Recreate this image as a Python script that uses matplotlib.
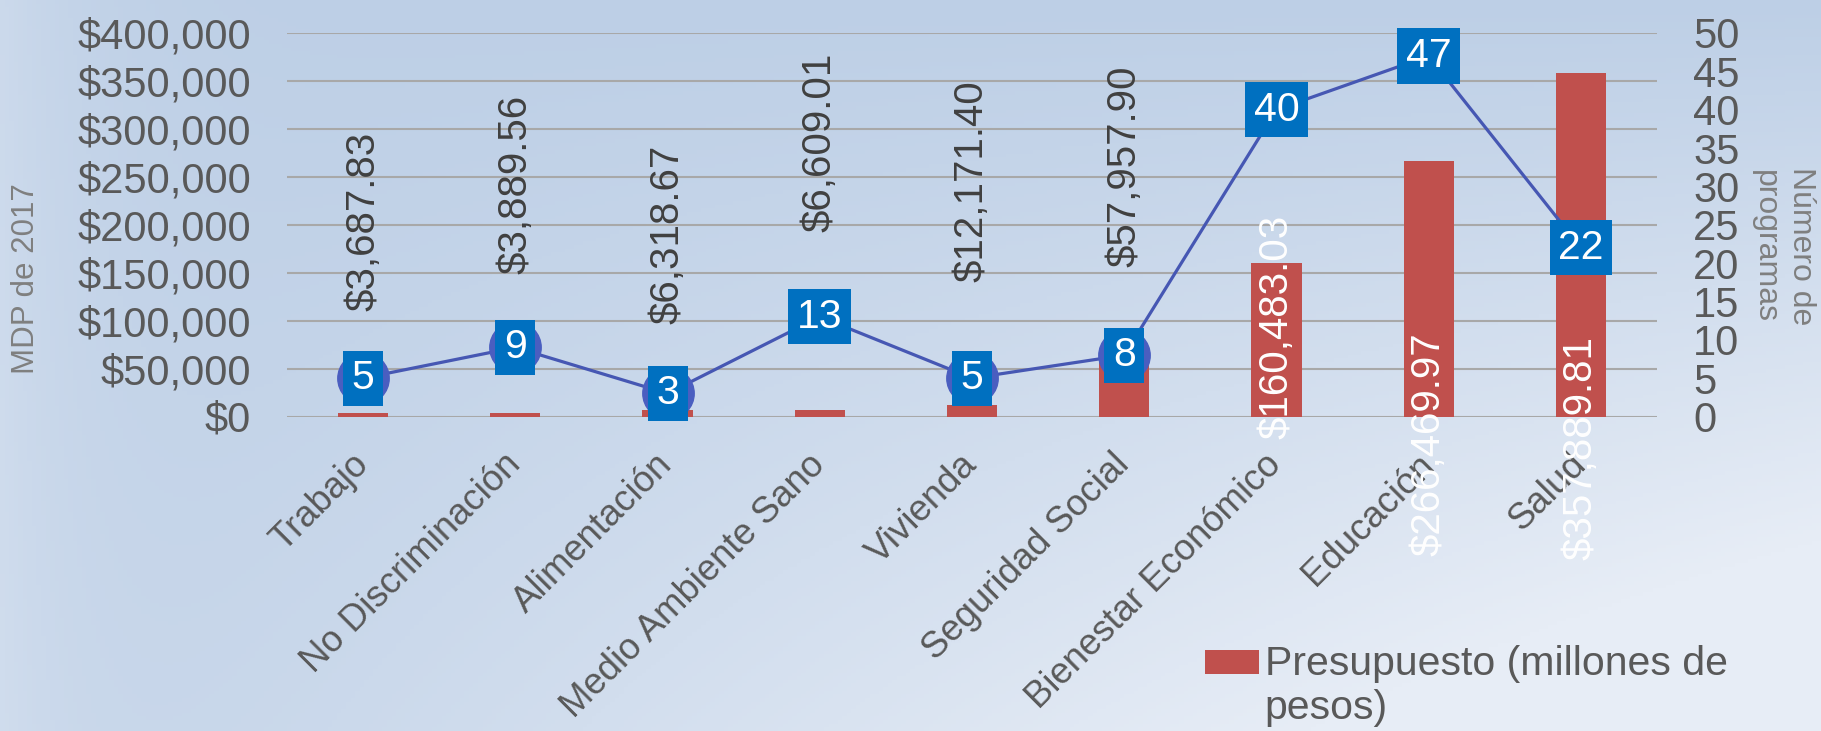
import numpy as np
import matplotlib
matplotlib.use("Agg")
import matplotlib.pyplot as plt
from matplotlib.ticker import FuncFormatter, MultipleLocator
from matplotlib.legend_handler import HandlerPatch
from matplotlib.patches import Rectangle

plt.rcParams['font.family'] = ['Liberation Sans', 'DejaVu Sans']

# ---- data ----
categorias = ["Trabajo", "No Discriminación", "Alimentación", "Medio Ambiente Sano",
              "Vivienda", "Seguridad Social", "Bienestar Económico", "Educación", "Salud"]
presupuesto = [3687.83, 3889.56, 6318.67, 6609.01, 12171.40, 57957.90,
               160483.03, 266469.97, 357889.81]
programas = [5, 9, 3, 13, 5, 8, 40, 47, 22]
etiqueta_serie = "Presupuesto (millones de\npesos)"
titulo_izq = "MDP de 2017"
titulo_der = "Número de\nprogramas"

# ---- layout (label centres, in left-axis units) ----
label_centre = [203e3, 242e3, 190e3, 286e3, 246e3, 261e3, 94e3, -28.7e3, -32.9e3]
label_color = ['#404040'] * 6 + ['white'] * 3

W, H = 1821, 731
fig = plt.figure(figsize=(W / 100, H / 100), dpi=100)

# background gradient
bg = fig.add_axes([0, 0, 1, 1], zorder=-10)
xx, yy = np.meshgrid(np.linspace(0, 1, 400), np.linspace(0, 1, 200))
t = np.clip(1.25 * xx * yy + 0.1 * yy, 0, 1)
t = np.clip(t + 0.35 * np.exp(-xx * W / 90.0), 0, 1)
dark = np.array([189, 207, 230]) / 255
light = np.array([231, 237, 246]) / 255
img = dark[None, None, :] + (light - dark)[None, None, :] * t[..., None]
bg.imshow(img, aspect='auto', extent=[0, 1, 0, 1], origin='upper')
bg.axis('off')

L, R = 287 / W, 1657 / W
B, T = 1 - 416.5 / H, 1 - 33 / H
ax = fig.add_axes([L, B, R - L, T - B])
ax.patch.set_visible(False)
x = np.arange(len(categorias))
bars = ax.bar(x, presupuesto, width=0.33, color='#C0504D', zorder=3,
              label=etiqueta_serie)
ax.set_xlim(-0.5, len(categorias) - 0.5)
ax.set_ylim(0, 400000)
ax.yaxis.set_major_locator(MultipleLocator(50000))
ax.yaxis.set_major_formatter(FuncFormatter(lambda v, p: "${:,.0f}".format(v)))
ax.yaxis.grid(True, color='#A8A8A8', lw=1.5, zorder=0)
ax.set_axisbelow(True)
for s in ax.spines.values():
    s.set_visible(False)
ax.tick_params(axis='y', length=0, pad=26, labelsize=30, labelcolor='#595959')
ax.set_xticks(x)
ax.set_xticklabels(categorias, rotation=45, ha='right', va='center',
                   rotation_mode='anchor', fontsize=26.3, color='#595959')
ax.tick_params(axis='x', length=0, pad=31)

for i, v in enumerate(presupuesto):
    ax.text(x[i], label_centre[i], "${:,.2f}".format(v), rotation=90,
            ha='center', va='center', fontsize=29, color=label_color[i],
            zorder=5, clip_on=False)

ax2 = ax.twinx()
ax2.patch.set_visible(False)
ax2.plot(x, programas, color='#4657B3', lw=2.3, marker='o', ms=37,
         mfc='#4A5EC0', mec='#4A5EC0', zorder=4)
ax2.set_ylim(0, 50)
ax2.yaxis.set_major_locator(MultipleLocator(5))
for s in ax2.spines.values():
    s.set_visible(False)
ax2.tick_params(axis='y', length=0, pad=26, labelsize=30, labelcolor='#595959')
for i, v in enumerate(programas):
    ax2.text(x[i], v, str(v), ha='center', va='center', fontsize=29.5,
             color='white', zorder=6,
             bbox=dict(boxstyle='square,pad=0.21', fc='#0070C0', ec='none'))

fig.text(26 / W, 1 - 279 / H, titulo_izq, rotation=90, ha='center', va='center',
         fontsize=22.5, color='#7F7F7F')
fig.text(1783 / W, 1 - 246 / H, titulo_der, rotation=270, ha='center', va='center',
         fontsize=23, color='#7F7F7F', linespacing=1.3)


def top_patch(legend, orig_handle, xdescent, ydescent, width, height, fontsize):
    # align the legend key with the first line of the wrapped label
    return Rectangle((-xdescent, -ydescent + 0.6 * fontsize), width, height)


leg = fig.legend(handles=[bars.patches[0]], labels=[etiqueta_serie], loc='upper left',
                 bbox_to_anchor=(1205 / W, 1 - 645 / H), frameon=False,
                 fontsize=29.5, handlelength=1.33, handleheight=0.52,
                 handletextpad=0.13, borderpad=0, borderaxespad=0,
                 labelcolor='#595959', labelspacing=0,
                 handler_map={Rectangle: HandlerPatch(patch_func=top_patch)})

fig.savefig("out.png", dpi=100)
